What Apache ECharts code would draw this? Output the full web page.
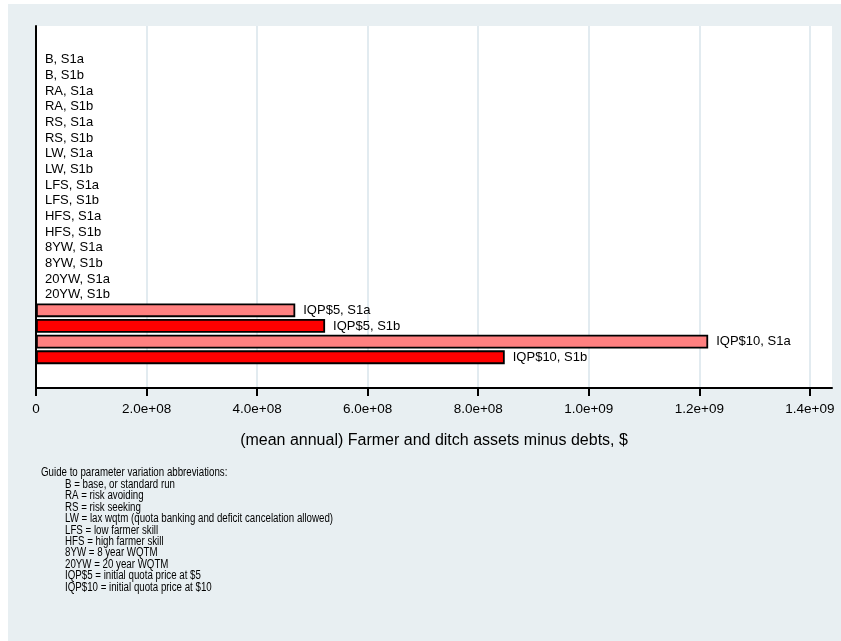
<!DOCTYPE html>
<html>
<head>
<meta charset="utf-8">
<script src="https://cdn.jsdelivr.net/npm/echarts@6/dist/echarts.min.js"></script>
<style>
  html, body { margin: 0; padding: 0; background: #ffffff; }
  #chart { position: absolute; left: 8px; top: 4px; width: 833px; height: 637px; }
</style>
</head>
<body>
<div id="chart"></div>
<script>
// Scenario runs, top to bottom
const categories = [
  'B, S1a', 'B, S1b', 'RA, S1a', 'RA, S1b', 'RS, S1a', 'RS, S1b',
  'LW, S1a', 'LW, S1b', 'LFS, S1a', 'LFS, S1b', 'HFS, S1a', 'HFS, S1b',
  '8YW, S1a', '8YW, S1b', '20YW, S1a', '20YW, S1b',
  'IQP$5, S1a', 'IQP$5, S1b', 'IQP$10, S1a', 'IQP$10, S1b'
];

// (mean annual) farmer and ditch assets minus debts, $
const assets = [
  0, 0, 0, 0, 0, 0,
  0, 0, 0, 0, 0, 0,
  0, 0, 0, 0,
  4.69e8, 5.23e8, 1.216e9, 8.48e8
];

// x axis ticks
const xTicks = [0, 2e8, 4e8, 6e8, 8e8, 1e9, 1.2e9, 1.4e9];

const noteLines = [
  'Guide to parameter variation abbreviations:',
  'B = base, or standard run',
  'RA = risk avoiding',
  'RS = risk seeking',
  'LW = lax wqtm (quota banking and deficit cancelation allowed)',
  'LFS = low farmer skill',
  'HFS = high farmer skill',
  '8YW = 8 year WQTM',
  '20YW = 20 year WQTM',
  'IQP$5 = initial quota price at $5',
  'IQP$10 = initial quota price at $10'
];

const colorS1a = '#ff8080';
const colorS1b = '#ff0000';
const FONT = '"Liberation Sans", Arial, Helvetica, sans-serif';
const X_MAX = 1.44e9;

function fmtTick(v) {
  if (v === 0) return '0';
  return v.toExponential(1).replace(/e([+-])(\d)$/, 'e$10$2');
}

const barData = assets.map((v, i) => ({
  value: v,
  itemStyle: { color: /S1a$/.test(categories[i]) ? colorS1a : colorS1b }
}));

// guide text below the plot, condensed like the axis annotation font
const lineH = 11.45;
const noteGraphics = noteLines.map((t, i) => ({
  type: 'text',
  x: i === 0 ? 33 : 57,
  y: 469 + i * lineH,
  scaleX: 0.81,
  style: {
    text: t,
    fill: '#000',
    font: '12px ' + FONT,
    textVerticalAlign: 'middle'
  }
}));

const chart = echarts.init(document.getElementById('chart'), null, { renderer: 'canvas' });

chart.setOption({
  backgroundColor: '#e8eff2',
  animation: false,
  grid: [
    { // plot frame with axes
      left: 28, right: 9, top: 22, bottom: 253,
      show: true, backgroundColor: '#ffffff', borderWidth: 0
    },
    { // bar band area
      left: 28, right: 9, top: 47.8, bottom: 275.9
    }
  ],
  xAxis: [
    {
      gridIndex: 0,
      type: 'value',
      min: 0, max: X_MAX, interval: 2e8,
      name: '(mean annual) Farmer and ditch assets minus debts, $',
      nameLocation: 'middle',
      nameGap: 45,
      nameTextStyle: { fontFamily: FONT, fontSize: 16, color: '#000' },
      axisLine: { show: true, lineStyle: { color: '#000', width: 2 } },
      axisTick: { show: true, length: 8, lineStyle: { color: '#000', width: 2 }, customValues: xTicks },
      axisLabel: {
        show: true, margin: 14, color: '#000', fontFamily: FONT, fontSize: 13.5,
        customValues: xTicks,
        formatter: fmtTick
      },
      splitLine: { show: true, lineStyle: { color: '#e2ebf0', width: 2 } }
    },
    {
      gridIndex: 1,
      type: 'value',
      min: 0, max: X_MAX,
      show: false
    }
  ],
  yAxis: [
    {
      gridIndex: 0,
      type: 'value',
      axisLine: { show: true, lineStyle: { color: '#000', width: 2 } },
      axisTick: { show: false },
      axisLabel: { show: false },
      splitLine: { show: false }
    },
    {
      gridIndex: 1,
      type: 'category',
      data: categories,
      inverse: true,
      show: false
    }
  ],
  series: [
    {
      type: 'bar',
      xAxisIndex: 1,
      yAxisIndex: 1,
      data: barData,
      barWidth: '88%',
      itemStyle: { borderColor: '#000', borderWidth: 1.8 },
      label: {
        show: true,
        position: 'right',
        distance: 8,
        formatter: '{b}',
        color: '#000',
        fontFamily: FONT,
        fontSize: 13
      },
      z: 3
    }
  ],
  graphic: noteGraphics
});
</script>
</body>
</html>
